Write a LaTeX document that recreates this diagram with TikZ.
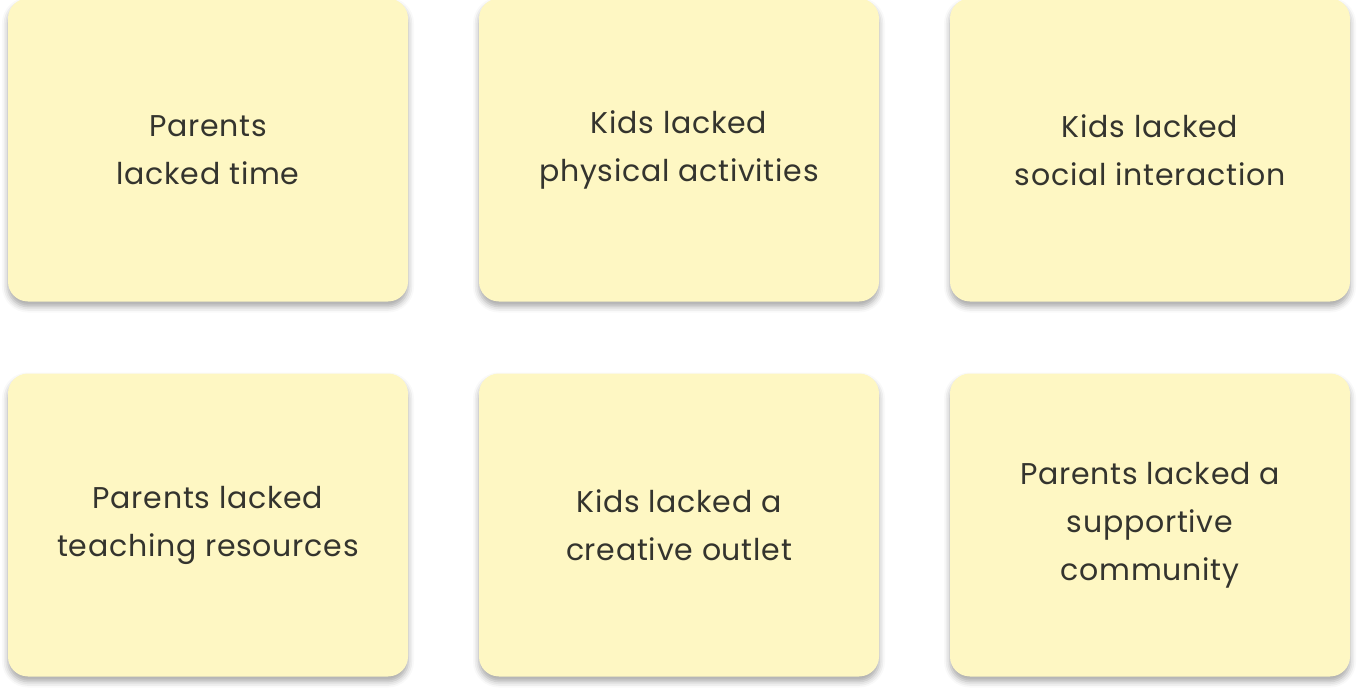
\documentclass[tikz,border=0pt]{standalone}
\usepackage{fontspec}
\setmainfont{Poppins}[LetterSpace=2.5]
\usetikzlibrary{shadows.blur}
\definecolor{notefill}{HTML}{FEF7C3}
\definecolor{notetext}{HTML}{34342E}

\begin{document}
\begin{tikzpicture}[
        x=1pt, y=-1pt,
        note/.style={rectangle, rounded corners=20pt, fill=notefill, minimum width=400pt, minimum height=303pt, inner sep=0, align=center, text=notetext, font=\fontsize{30}{48}\selectfont,
            blur shadow={shadow xshift=0pt, shadow yshift=-5pt, shadow blur radius=6pt, shadow opacity=35}}
    ]

        % 画布大小
        \useasboundingbox (0,0) rectangle (1358,694);

        % 间距
        \def\dx{471}
        \def\dy{375}

        % Sticky notes
        \foreach \txt [count=\i] in {{Parents\\lacked time}, {Kids lacked\\physical activities}, {Kids lacked\\social interaction},
                {Parents lacked\\teaching resources}, {Kids lacked a\\creative outlet}, {Parents lacked a\\supportive\\community}} {
            \pgfmathsetmacro{\col}{int(mod(\i - 1, 3))}
            \pgfmathsetmacro{\row}{int((\i - 1) / 3)}
            \node[note] (note-\i) at (208 + \col * \dx, 150 + \row * \dy) {\txt};
        }

    \end{tikzpicture}
\end{document}
